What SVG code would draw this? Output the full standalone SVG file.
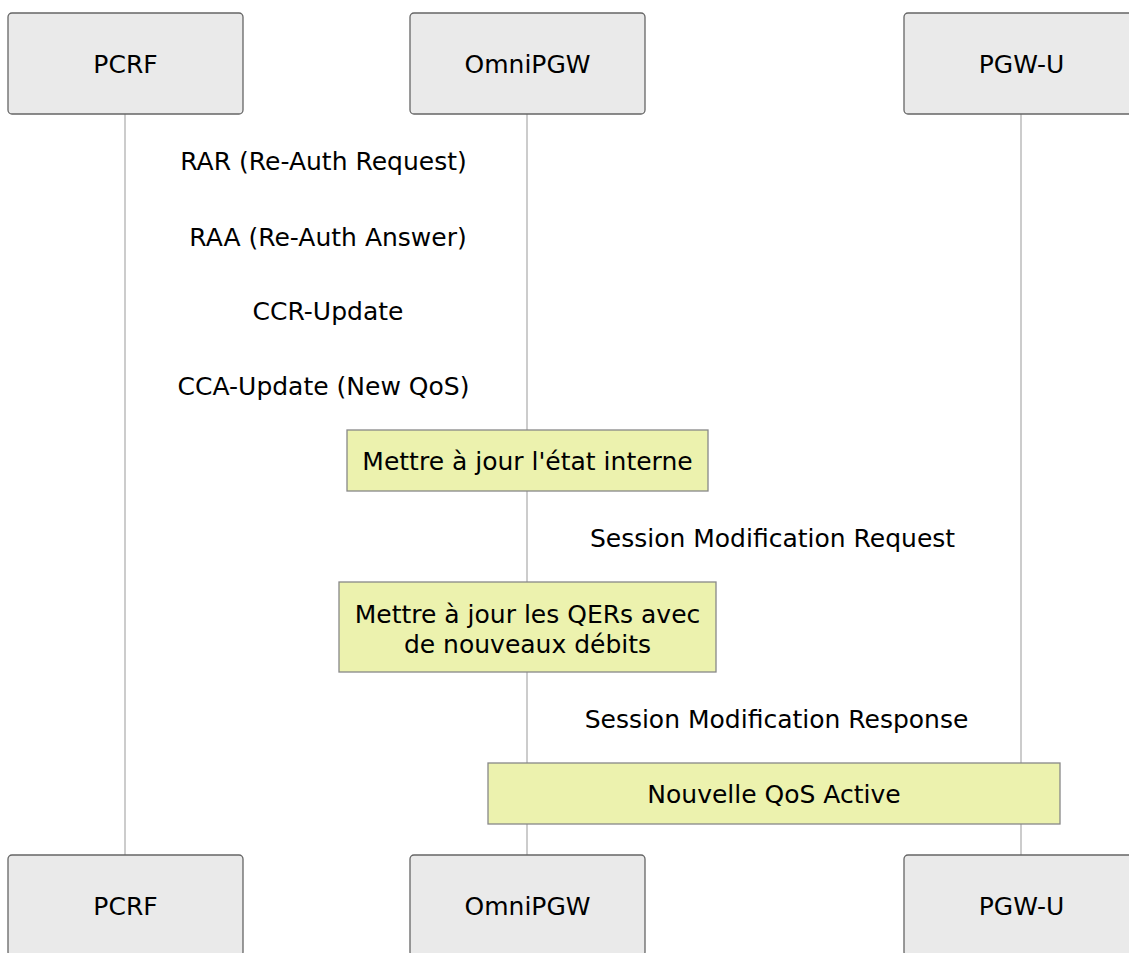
<svg xmlns="http://www.w3.org/2000/svg" width="1129" height="953" viewBox="0 0 1129 953">
<style>
.actor{fill:#eaeaea;stroke:#666;stroke-width:1.3}
.t{font-family:"DejaVu Sans",sans-serif;font-size:25px;fill:#000;text-anchor:middle;dominant-baseline:central}
.life{stroke:#999;stroke-width:1}
.note{fill:#ecf2ae;stroke:#888;stroke-width:1.3}
</style>
<rect width="1129" height="953" fill="#fff"/>
<g id="lifelines">
<line class="life" x1="125" y1="114" x2="125" y2="855"/>
<line class="life" x1="527" y1="114" x2="527" y2="855"/>
<line class="life" x1="1021" y1="114" x2="1021" y2="855"/>
</g>
<g id="actor-pcrf-top"><rect class="actor" x="8" y="13" width="235" height="101" rx="4"/><text class="t" x="125.5" y="64">PCRF</text></g>
<g id="actor-omnipgw-top"><rect class="actor" x="410" y="13" width="235" height="101" rx="4"/><text class="t" x="527.5" y="64">OmniPGW</text></g>
<g id="actor-pgwu-top"><rect class="actor" x="904" y="13" width="235" height="101" rx="4"/><text class="t" x="1021.5" y="64">PGW-U</text></g>
<g id="actor-pcrf-bottom"><rect class="actor" x="8" y="855" width="235" height="101" rx="4"/><text class="t" x="125.5" y="906">PCRF</text></g>
<g id="actor-omnipgw-bottom"><rect class="actor" x="410" y="855" width="235" height="101" rx="4"/><text class="t" x="527.5" y="906">OmniPGW</text></g>
<g id="actor-pgwu-bottom"><rect class="actor" x="904" y="855" width="235" height="101" rx="4"/><text class="t" x="1021.5" y="906">PGW-U</text></g>
<g id="messages">
<text class="t" x="323.5" y="161">RAR (Re-Auth Request)</text>
<text class="t" x="328" y="237">RAA (Re-Auth Answer)</text>
<text class="t" x="328" y="311">CCR-Update</text>
<text class="t" x="323.5" y="386">CCA-Update (New QoS)</text>
<text class="t" x="772.5" y="538">Session Modification Request</text>
<text class="t" x="776.5" y="719">Session Modification Response</text>
</g>
<g id="note1"><rect class="note" x="347" y="430" width="361" height="61"/><text class="t" x="527.5" y="461.5">Mettre à jour l'état interne</text></g>
<g id="note2"><rect class="note" x="339" y="582" width="377" height="90"/><text class="t" x="527.5" y="614">Mettre à jour les QERs avec</text><text class="t" x="527.5" y="644">de nouveaux débits</text></g>
<g id="note3"><rect class="note" x="488" y="763" width="572" height="61"/><text class="t" x="774" y="794.5">Nouvelle QoS Active</text></g>
</svg>
